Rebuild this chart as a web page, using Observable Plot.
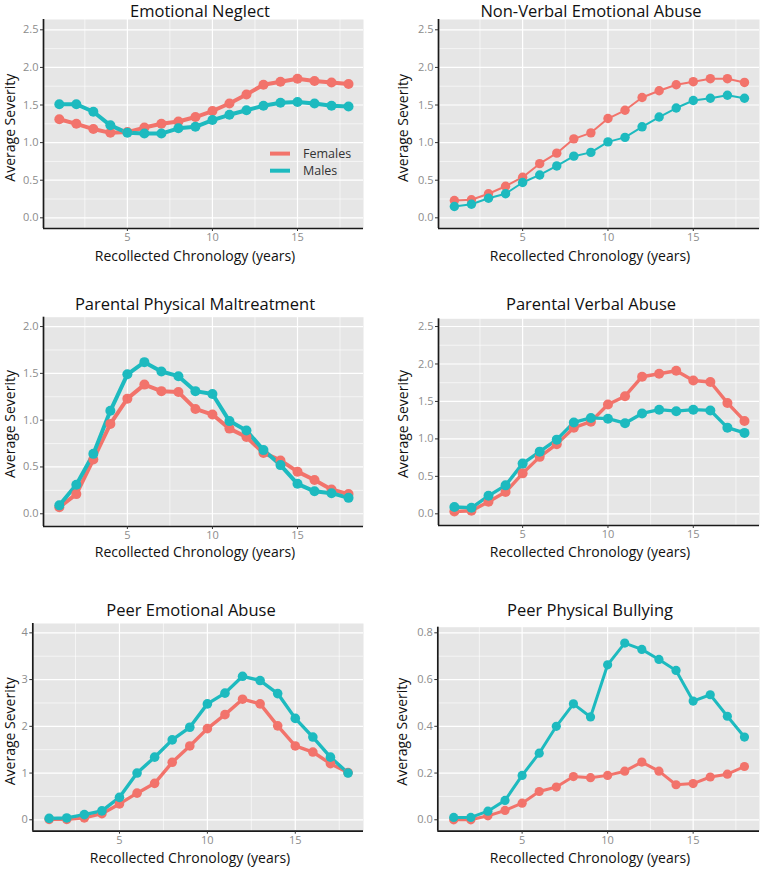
<!DOCTYPE html>
<html>
<head>
<meta charset="utf-8">
<script src="https://cdn.jsdelivr.net/npm/d3@7"></script>
<script src="https://cdn.jsdelivr.net/npm/@observablehq/plot@0.6"></script>
<style>
  html, body { margin: 0; padding: 0; background: #fff; }
  #root { position: relative; width: 760px; height: 870px; background: #fff; font-family: "Open Sans", Lato, sans-serif; }
  .panel { position: absolute; width: 380px; height: 290px; }
  .panel svg { position: absolute; left: 0; top: 0; overflow: visible; }
  .lbl { position: absolute; left: 0; top: 0; white-space: nowrap; transform-origin: 0 0; color: #111; font-family: "Open Sans", Lato, sans-serif; font-weight: 400; }
</style>
</head>
<body>
<div id="root"></div>
<script>
// ---- data ----
const years = [1,2,3,4,5,6,7,8,9,10,11,12,13,14,15,16,17,18];
const sexes = ["Females", "Males"];
const sexColors = ["#F2736B", "#1DBABF"];

const emotionalNeglectF = [1.31,1.25,1.18,1.13,1.14,1.20,1.25,1.28,1.34,1.42,1.52,1.64,1.77,1.81,1.85,1.82,1.80,1.78];
const emotionalNeglectM = [1.51,1.51,1.41,1.23,1.13,1.12,1.12,1.19,1.21,1.30,1.37,1.43,1.49,1.53,1.54,1.52,1.49,1.48];

const nonVerbalF = [0.23,0.24,0.32,0.42,0.54,0.72,0.86,1.05,1.13,1.32,1.43,1.60,1.69,1.77,1.81,1.85,1.85,1.80];
const nonVerbalM = [0.15,0.18,0.26,0.32,0.47,0.57,0.69,0.82,0.87,1.01,1.07,1.21,1.34,1.46,1.56,1.59,1.63,1.59];

const parentalPhysicalF = [0.07,0.21,0.58,0.96,1.23,1.38,1.31,1.30,1.12,1.06,0.91,0.82,0.65,0.57,0.45,0.36,0.26,0.21];
const parentalPhysicalM = [0.09,0.31,0.64,1.10,1.49,1.62,1.52,1.47,1.31,1.28,0.99,0.89,0.68,0.52,0.32,0.24,0.22,0.17];

const parentalVerbalF = [0.03,0.04,0.16,0.29,0.54,0.76,0.93,1.15,1.23,1.46,1.57,1.83,1.87,1.91,1.78,1.76,1.48,1.24];
const parentalVerbalM = [0.09,0.08,0.24,0.38,0.67,0.83,0.99,1.22,1.28,1.27,1.21,1.34,1.39,1.37,1.39,1.38,1.15,1.08];

const peerEmotionalF = [0.01,0.01,0.04,0.13,0.34,0.57,0.78,1.23,1.58,1.95,2.25,2.58,2.48,2.01,1.58,1.45,1.20,1.01];
const peerEmotionalM = [0.03,0.04,0.11,0.19,0.48,1.00,1.34,1.71,1.98,2.48,2.71,3.07,2.98,2.70,2.17,1.77,1.34,1.00];

const peerPhysicalF = [0.000,0.000,0.017,0.040,0.071,0.121,0.140,0.185,0.180,0.190,0.208,0.247,0.208,0.150,0.155,0.183,0.195,0.228];
const peerPhysicalM = [0.010,0.010,0.037,0.083,0.190,0.285,0.400,0.496,0.440,0.663,0.756,0.729,0.686,0.639,0.508,0.535,0.443,0.354];

const titles = ["Emotional Neglect", "Non-Verbal Emotional Abuse", "Parental Physical Maltreatment",
                "Parental Verbal Abuse", "Peer Emotional Abuse", "Peer Physical Bullying"];
const xTickValues = [5, 10, 15];
const xMinorValues = [2.5, 7.5, 12.5, 17.5];
const yTicksA = [0, 0.5, 1, 1.5, 2, 2.5];
const yMinorA = [0.25, 0.75, 1.25, 1.75, 2.25];
const yTicksB = [0, 0.5, 1, 1.5, 2];
const yMinorB = [0.25, 0.75, 1.25, 1.75];
const yTicksC = [0, 1, 2, 3, 4];
const yMinorC = [0.5, 1.5, 2.5, 3.5];
const yTicksD = [0, 0.2, 0.4, 0.6, 0.8];
const yMinorD = [0.1, 0.3, 0.5, 0.7];
const xLabel = "Recollected Chronology (years)";
const yLabel = "Average Severity";

// ---- layout ----
const BG = "#E6E6E6";
const AXIS = "#1a1a1a";
const TICKTEXT = "#8c8c8c";
const FF = "'Open Sans', Lato, sans-serif";
const xDomain = [0.07, 18.88];

const panels = [
  {title: titles[0], f: emotionalNeglectF, m: emotionalNeglectM, left: 0, top: 0,
   mL: 43, mR: 17, mT: 19, mB: 62, yDom: [-0.142, 2.637], yTicks: yTicksA, yMinor: yMinorA, fmt: ".1f",
   lw: 4, r: 5, tX: 200, tY: 17.8, xlX: 195, xlY: 261.5, ylX: 15.2, ylY: 127.7, legend: true},
  {title: titles[1], f: nonVerbalF, m: nonVerbalM, left: 380, top: 0,
   mL: 58, mR: 1, mT: 19, mB: 62, yDom: [-0.142, 2.637], yTicks: yTicksA, yMinor: yMinorA, fmt: ".1f",
   lw: 2, r: 4.7, tX: 211, tY: 17.8, xlX: 210, xlY: 261.5, ylX: 28, ylY: 128},
  {title: titles[2], f: parentalPhysicalF, m: parentalPhysicalM, left: 0, top: 290,
   mL: 43, mR: 17, mT: 26.7, mB: 54, yDom: [-0.136, 2.1], yTicks: yTicksB, yMinor: yMinorB, fmt: ".1f",
   lw: 4, r: 5, tX: 195, tY: 20.5, xlX: 195, xlY: 267, ylX: 15.2, ylY: 134},
  {title: titles[3], f: parentalVerbalF, m: parentalVerbalM, left: 380, top: 290,
   mL: 58, mR: 1, mT: 28.3, mB: 55, yDom: [-0.156, 2.603], yTicks: yTicksA, yMinor: yMinorA, fmt: ".1f",
   lw: 3.4, r: 5, tX: 211, tY: 21, xlX: 210, xlY: 267, ylX: 28, ylY: 134},
  {title: titles[4], f: peerEmotionalF, m: peerEmotionalM, left: 0, top: 580,
   mL: 32.3, mR: 17, mT: 43, mB: 39.3, yDom: [-0.244, 4.2], yTicks: yTicksC, yMinor: yMinorC, fmt: "d",
   lw: 3.4, r: 4.8, tX: 191, tY: 37, xlX: 190, xlY: 283, ylX: 15.2, ylY: 151.3},
  {title: titles[5], f: peerPhysicalF, m: peerPhysicalM, left: 380, top: 580,
   mL: 57.3, mR: 1, mT: 46.7, mB: 39.3, yDom: [-0.0488, 0.824], yTicks: yTicksD, yMinor: yMinorD, fmt: ".1f",
   lw: 3, r: 4.6, tX: 210, tY: 37, xlX: 210, xlY: 283, ylX: 27.5, ylY: 151.7}
];

const root = document.getElementById("root");

// place an HTML label so that its baseline-centre sits at (x, y); optional rotation
function addLabel(parent, text, x, y, fs, rotate) {
  const el = document.createElement("div");
  el.className = "lbl";
  el.style.fontSize = fs + "px";
  el.style.lineHeight = fs + "px";
  el.textContent = text;
  const base = 0.888 * fs;
  el.style.transform = `translate(${x}px, ${y}px)` + (rotate ? ` rotate(${rotate}deg)` : "") +
                       ` translate(-50%, -${base}px)`;
  parent.appendChild(el);
}

for (const p of panels) {
  const data = [];
  years.forEach((yr, i) => data.push({year: yr, value: p.f[i], sex: sexes[0]}));
  years.forEach((yr, i) => data.push({year: yr, value: p.m[i], sex: sexes[1]}));

  const chart = Plot.plot({
    width: 380,
    height: 290,
    marginLeft: p.mL, marginRight: p.mR, marginTop: p.mT, marginBottom: p.mB,
    x: {domain: xDomain},
    y: {domain: p.yDom},
    color: {domain: sexes, range: sexColors},
    style: {fontFamily: FF, fontSize: "11px", background: "transparent", overflow: "visible"},
    marks: [
      Plot.frame({fill: BG, stroke: "none"}),
      Plot.gridX(xMinorValues, {stroke: "white", strokeOpacity: 1, strokeWidth: 0.6}),
      Plot.gridY(p.yMinor, {stroke: "white", strokeOpacity: 1, strokeWidth: 0.6}),
      Plot.gridX(xTickValues, {stroke: "white", strokeOpacity: 1, strokeWidth: 1.2}),
      Plot.gridY(p.yTicks, {stroke: "white", strokeOpacity: 1, strokeWidth: 1.2}),
      Plot.line(data, {x: "year", y: "value", z: "sex", stroke: "sex", strokeWidth: p.lw, curve: "linear"}),
      Plot.dot(data, {x: "year", y: "value", fill: "sex", r: p.r, stroke: "none"}),
      Plot.ruleX([xDomain[0]], {stroke: AXIS, strokeWidth: 1.7}),
      Plot.ruleY([p.yDom[0]], {stroke: AXIS, strokeWidth: 1.7}),
      Plot.axisX(xTickValues, {tickSize: 3, tickPadding: 2, stroke: "#333", fill: TICKTEXT, fontSize: 11, label: null}),
      Plot.axisY(p.yTicks, {tickSize: 3, tickPadding: 2, stroke: "#333", fill: TICKTEXT, fontSize: 11, tickFormat: d3.format(p.fmt), label: null})
    ]
  });

  const div = document.createElement("div");
  div.className = "panel";
  div.style.left = p.left + "px";
  div.style.top = p.top + "px";
  div.appendChild(chart);
  root.appendChild(div);

  addLabel(div, p.title, p.tX, p.tY, 16.5, 0);
  addLabel(div, xLabel, p.xlX, p.xlY, 14, 0);
  addLabel(div, yLabel, p.ylX, p.ylY, 14, -90);

  if (p.legend) {
    const svg = d3.select(chart);
    const lg = svg.append("g").attr("text-anchor", "start");
    sexes.forEach((s, i) => {
      const yy = 153.6 + i * 17.1;
      lg.append("line").attr("x1", 270).attr("x2", 290).attr("y1", yy).attr("y2", yy)
        .attr("stroke", sexColors[i]).attr("stroke-width", 4);
      lg.append("text").attr("x", 303).attr("y", yy + 4.6).attr("text-anchor", "start")
        .attr("font-family", FF).attr("font-size", 12.5).attr("fill", "#333").text(s);
    });
  }
}
</script>
</body>
</html>
